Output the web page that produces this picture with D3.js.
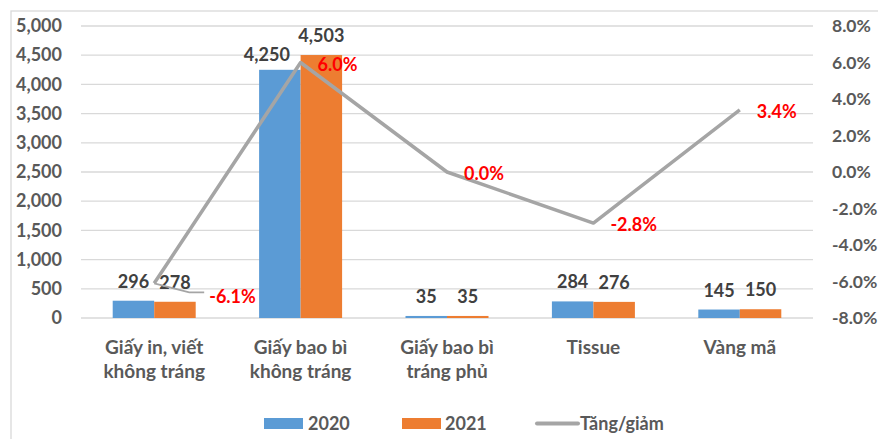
<!DOCTYPE html>
<html><head><meta charset="utf-8">
<script src="https://cdn.jsdelivr.net/npm/d3@7/dist/d3.min.js"></script>
<style>body{margin:0;background:#fff;}svg{display:block;font-family:Lato,"Open Sans",sans-serif;font-weight:bold;}</style>
</head><body><svg id="c" width="878" height="439"></svg>
<script>
const categories = [["Giấy in, viết","không tráng"],["Giấy bao bì","không tráng"],["Giấy bao bì","tráng phủ"],["Tissue"],["Vàng mã"]];
const series = ["2020","2021"];
const values2020 = [296, 4250, 35, 284, 145];
const values2021 = [278, 4503, 35, 276, 150];
const change = [-6.1, 6.0, 0.0, -2.8, 3.4];
const leftTicks = [0,500,1000,1500,2000,2500,3000,3500,4000,4500,5000];
const rightTicks = [-8,-6,-4,-2,0,2,4,6,8];
const colors = {"2020":"#5B9BD5","2021":"#ED7D31",line:"#A5A5A5"};

const svg = d3.select("#c");
const L=81, R=813, T=26, B=318;
const fmt = d3.format(",");
const pct = d=>d3.format(".1f")(d).replace("\u2212","-")+"%";
const keys = categories.map((c,i)=>"c"+i);
const x = d3.scaleBand().domain(keys).range([L,R]).padding(0);
const x1 = d3.scaleBand().domain(series).range([0,x.bandwidth()]).paddingInner(0).paddingOuter(0.764);
const y = d3.scaleLinear().domain([0,5000]).range([B,T]);
const y2 = d3.scaleLinear().domain([-8,8]).range([B,T]);
const FS = "18px";

// frame
svg.append("rect").attr("x",11).attr("y",11).attr("width",890).attr("height",460).attr("fill","none").attr("stroke","#D9D9D9").attr("stroke-width",1.3);

// grid
svg.append("g").selectAll("line").data(leftTicks).join("line")
  .attr("x1",L).attr("x2",R).attr("y1",d=>y(d)).attr("y2",d=>y(d))
  .attr("stroke","#D9D9D9").attr("stroke-width",1.3);

// left axis
const ax = svg.append("g").attr("transform",`translate(${L-19},0)`)
  .call(d3.axisLeft(y).tickValues(leftTicks).tickFormat(fmt).tickSize(0).tickPadding(0));
ax.select(".domain").remove();
ax.selectAll("text").attr("fill","#595959").style("font-size",FS).style("font-family","Lato").style("font-weight","bold");

// right axis
const ax2 = svg.append("g").attr("transform",`translate(832,0)`)
  .call(d3.axisRight(y2).tickValues(rightTicks).tickFormat(pct).tickSize(0).tickPadding(0));
ax2.select(".domain").remove();
ax2.selectAll("text").attr("fill","#595959").style("font-size","17.5px").style("font-family","Lato").style("font-weight","bold");

// bars
const data = keys.map((k,i)=>({k, vals:[{s:"2020",v:values2020[i]},{s:"2021",v:values2021[i]}]}));
const g = svg.append("g");
const grp = g.selectAll("g").data(data).join("g").attr("transform",d=>`translate(${x(d.k)},0)`);
grp.selectAll("rect").data(d=>d.vals).join("rect")
  .attr("x",d=>x1(d.s)).attr("width",x1.bandwidth())
  .attr("y",d=>y(d.v)).attr("height",d=>B-y(d.v)).attr("fill",d=>colors[d.s]);
grp.selectAll("text").data(d=>d.vals).join("text")
  .attr("x",d=>x1(d.s)+x1.bandwidth()/2-(d.v===4250?13:0)).attr("y",d=>y(d.v)-(d.v===4250?9:13))
  .attr("text-anchor","middle").attr("fill","#404040").style("font-size",FS)
  .text(d=>fmt(d.v));

// line
const cx = i=>x(keys[i])+x.bandwidth()/2;
const line = d3.line().x((d,i)=>cx(i)).y(d=>y2(d));
svg.append("path").datum(change).attr("d",line).attr("fill","none")
  .attr("stroke",colors.line).attr("stroke-width",3.5).attr("stroke-linejoin","round");

// leader line for first label
svg.append("path").attr("d",`M${cx(0)},${y2(change[0])} L${cx(0)+35},${y2(change[0])+9} L${cx(0)+50},${y2(change[0])+9}`)
  .attr("fill","none").attr("stroke",colors.line).attr("stroke-width",1.8);

svg.append("g").selectAll("text").data(change).join("text")
  .attr("x",(d,i)=>cx(i)+(i===0?55:17)).attr("y",(d,i)=>y2(d)+(i===0?13:2)).attr("dy","0.35em")
  .attr("fill","#FF0000").style("font-size",FS)
  .text(pct);

// category labels
const cl = svg.append("g").selectAll("text").data(categories).join("text")
  .attr("text-anchor","middle").attr("fill","#595959").style("font-size","19px")
  .attr("transform",(d,i)=>`translate(${cx(i)},354)`);
cl.selectAll("tspan").data(d=>d).join("tspan").attr("x",0).attr("dy",(d,j)=>j===0?0:"24px").text(d=>d);

// legend
const lg = svg.append("g");
lg.append("rect").attr("x",264).attr("y",418).attr("width",39).attr("height",11).attr("fill",colors["2020"]);
lg.append("text").attr("x",308).attr("y",430).attr("fill","#595959").style("font-size",FS).text(series[0]);
lg.append("rect").attr("x",402).attr("y",418).attr("width",39).attr("height",11).attr("fill",colors["2021"]);
lg.append("text").attr("x",445).attr("y",430).attr("fill","#595959").style("font-size",FS).text(series[1]);
lg.append("line").attr("x1",537).attr("x2",578).attr("y1",423.5).attr("y2",423.5).attr("stroke",colors.line).attr("stroke-width",4).attr("stroke-linecap","round");
lg.append("text").attr("x",580).attr("y",430).attr("fill","#595959").style("font-size",FS).text("Tăng/giảm");
</script></body></html>
